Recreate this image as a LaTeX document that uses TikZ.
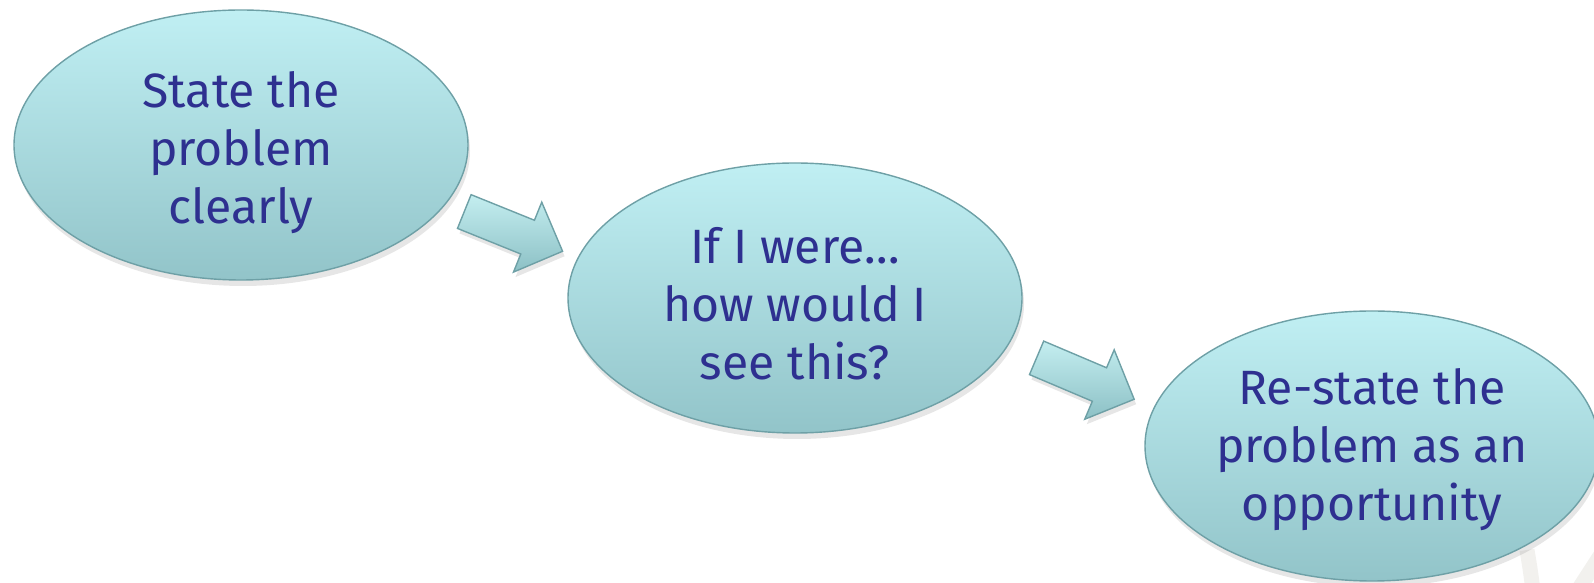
\documentclass[tikz,border=0pt]{standalone}
\usepackage{fontspec}
\setmainfont{Fira Sans}
\usetikzlibrary{shapes.geometric,shapes.arrows,shadows}
\definecolor{txt}{RGB}{46,48,144}
\definecolor{ctop}{RGB}{192,239,243}
\definecolor{cbot}{RGB}{146,196,201}
\definecolor{cedge}{RGB}{110,160,166}
\definecolor{atop}{RGB}{196,238,240}
\definecolor{abot}{RGB}{140,192,197}
\definecolor{bgl}{RGB}{242,241,238}
\begin{document}
\begin{tikzpicture}[x=0.1mm,y=-0.1mm,
  bubble/.style={ellipse, draw=cedge, line width=0.4pt, top color=ctop, bottom color=cbot,
    minimum width=45.4mm, minimum height=27mm, inner sep=0pt,
    drop shadow={opacity=0.2, shadow xshift=0.2mm, shadow yshift=-0.6mm}},
  btext/.style={align=center, text=txt, inner sep=0pt, yshift=-0.6mm,
    font=\fontsize{13.7pt}{16.5pt}\selectfont},
  blockarrow/.style={single arrow, draw=cedge, line width=0.4pt, top color=atop, bottom color=abot,
    minimum height=10.6mm, single arrow head extend=1.95mm, inner xsep=0pt, inner ysep=1.75mm,
    drop shadow={opacity=0.2, shadow xshift=0.2mm, shadow yshift=-0.5mm}},
  bgline/.style={draw=bgl, line width=1.5mm}]
\useasboundingbox (0,0) rectangle (1594,583);
\draw[bgline] (1527,550) .. controls (1530,568) .. (1533,590);
\draw[bgline] (1578,590) -- (1600,556);
\node[bubble, label={[btext, yshift=-0.2mm]center:State the\\problem\\clearly}] (s1) at (241,145) {};
\node[bubble, label={[btext]center:If I were…\\how would I\\see this?}] (s2) at (795,298) {};
\node[bubble, label={[btext, yshift=0.2mm]center:Re-state the\\problem as an\\opportunity}] (s3) at (1372,446) {};
\node[blockarrow, rotate=-22] (a1) at (505,228) {};
\node[blockarrow, rotate=-23] (a2) at (1077,375) {};
\end{tikzpicture}
\end{document}
